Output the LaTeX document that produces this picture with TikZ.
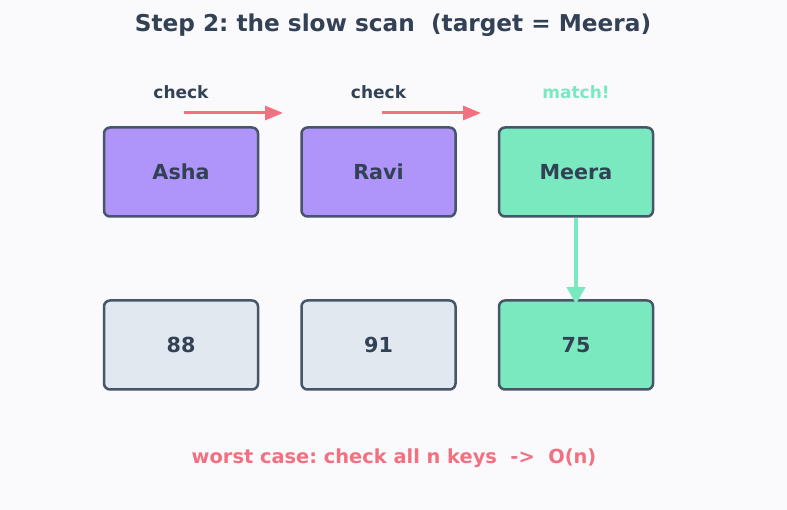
\documentclass[tikz,border=0pt]{standalone}
\usepackage{fontspec}
\setmainfont{DejaVu Sans}
\usetikzlibrary{arrows.meta}
\frenchspacing
\definecolor{bg}{HTML}{FAFAFD}
\definecolor{ink}{HTML}{334155}
\definecolor{edge}{HTML}{475569}
\definecolor{purp}{HTML}{AF94FA}
\definecolor{mint}{HTML}{7AE9C0}
\definecolor{pale}{HTML}{E2E8F0}
\definecolor{pink}{HTML}{F2707F}
\tikzset{
  box/.style={draw=edge, line width=2.5pt, rounded corners=6pt, minimum width=154pt, minimum height=89pt, inner sep=0pt, text=ink, font=\bfseries\fontsize{20.7}{24}\selectfont},
  keybox/.style={box, fill=purp},
  hitbox/.style={box, fill=mint},
  valbox/.style={box, fill=pale},
  lbl/.style={font=\bfseries\fontsize{17}{20}\selectfont, inner sep=0pt},
  scanarrow/.style={draw=pink, line width=3pt, -{Triangle[length=18pt,width=14pt]}},
  hitarrow/.style={draw=mint, line width=4pt, -{Triangle[length=17pt,width=18pt]}}
}
\begin{document}
\begin{tikzpicture}[x=1pt,y=-1pt]
\fill[bg] (0,0) rectangle (787,510);
\useasboundingbox (0,0) rectangle (787,510);
\node[font=\bfseries\fontsize{23.2}{27}\selectfont, text=ink, inner sep=0pt] (title) at (393,25) {Step 2: the slow scan\ \ (target = Meera)};
\node[keybox] (asha) at (181,172) {Asha};
\node[keybox] (ravi) at (378.5,172) {Ravi};
\node[hitbox] (meera) at (576,172) {Meera};
\node[valbox] (v1) at (181,345) {88};
\node[valbox] (v2) at (378.5,345) {91};
\node[hitbox] (v3) at (576,345) {75};
\node[lbl, text=ink] (c1) at (181,92) {check};
\node[lbl, text=ink] (c2) at (378.5,92) {check};
\node[lbl, text=mint] (m) at (576,92) {match!};
\coordinate (a1s) at (184,113); \coordinate (a1e) at (283,113);
\coordinate (a2s) at (382,113); \coordinate (a2e) at (481,113);
\draw[scanarrow] (a1s) -- (a1e);
\draw[scanarrow] (a2s) -- (a2e);
\draw[hitarrow] (meera.south) -- ([yshift=-5pt]v3.north);
\node[font=\bfseries\fontsize{19.4}{23}\selectfont, text=pink, inner sep=0pt] (foot) at (394,458) {worst case: check all n keys\ \ ->\ \ O(n)};
\end{tikzpicture}
\end{document}
